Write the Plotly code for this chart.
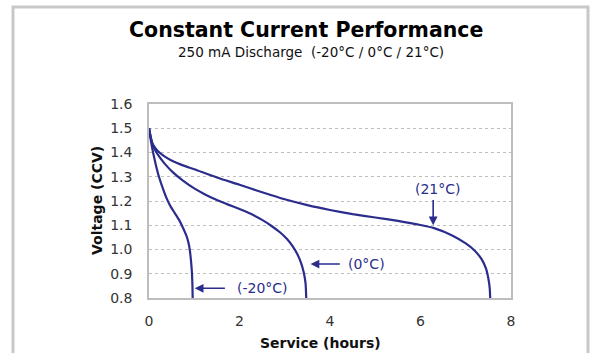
import plotly.graph_objects as go

# Discharge curves: service time (hours) vs closed-circuit voltage
hours_m20 = [0, 0.04, 0.09, 0.15, 0.22, 0.3, 0.38, 0.47, 0.57, 0.67, 0.75, 0.82, 0.87, 0.9, 0.93, 0.95, 0.96, 0.965]
volts_m20 = [1.5, 1.45, 1.4, 1.35, 1.3, 1.255, 1.215, 1.18, 1.15, 1.12, 1.09, 1.06, 1.03, 1.0, 0.95, 0.9, 0.85, 0.8]

hours_0 = [0, 0.03, 0.07, 0.12, 0.2, 0.35, 0.53, 0.75, 1.0, 1.25, 1.5, 1.75, 2.0, 2.25, 2.5, 2.7, 2.9, 3.05, 3.18, 3.28, 3.36, 3.42, 3.46, 3.475]
volts_0 = [1.5, 1.47, 1.44, 1.415, 1.39, 1.353, 1.318, 1.284, 1.252, 1.226, 1.204, 1.185, 1.167, 1.147, 1.122, 1.098, 1.07, 1.043, 1.012, 0.98, 0.945, 0.905, 0.86, 0.8]

hours_21 = [0, 0.03, 0.07, 0.12, 0.2, 0.35, 0.53, 0.75, 1.0, 1.5, 2.0, 2.5, 3.0, 3.5, 4.0, 4.5, 5.0, 5.5, 6.0, 6.3, 6.7, 7.0, 7.2, 7.35, 7.45, 7.5, 7.53, 7.54]
volts_21 = [1.5, 1.47, 1.44, 1.423, 1.405, 1.383, 1.364, 1.347, 1.331, 1.297, 1.267, 1.236, 1.207, 1.183, 1.163, 1.146, 1.132, 1.118, 1.101, 1.088, 1.058, 1.025, 0.995, 0.96, 0.92, 0.88, 0.84, 0.8]

x_ticks = [0, 2, 4, 6, 8]
y_ticks = [0.8, 0.9, 1.0, 1.1, 1.2, 1.3, 1.4, 1.5, 1.6]

NAVY = "#2B2D8C"
FONT = "DejaVu Sans"

fig = go.Figure()
for xs, ys in [(hours_m20, volts_m20), (hours_0, volts_0), (hours_21, volts_21)]:
    fig.add_trace(go.Scatter(
        x=xs, y=ys, mode="lines",
        line=dict(color=NAVY, width=2.2, shape="spline", smoothing=0.5),
        showlegend=False, hoverinfo="skip",
    ))

# Curve labels with arrows (tip, tail, label position)
arrows = [
    dict(tip=(1.01, 0.84), tail=(1.71, 0.84), text="(-20°C)", pos=(2.5, 0.84)),
    dict(tip=(3.57, 0.94), tail=(4.25, 0.94), text="(0°C)", pos=(4.8, 0.94)),
    dict(tip=(6.28, 1.10), tail=(6.28, 1.21), text="(21°C)", pos=(6.38, 1.25)),
]
for a in arrows:
    fig.add_annotation(
        x=a["tip"][0], y=a["tip"][1], ax=a["tail"][0], ay=a["tail"][1],
        xref="x", yref="y", axref="x", ayref="y", text="",
        showarrow=True, arrowhead=2, arrowsize=1.1, arrowwidth=1.6, arrowcolor=NAVY,
    )
    fig.add_annotation(
        x=a["pos"][0], y=a["pos"][1], xref="x", yref="y", text=a["text"],
        showarrow=False, font=dict(family=FONT, size=14, color=NAVY),
    )

# Titles
fig.add_annotation(
    x=0.4337, y=1.3814, xref="paper", yref="paper", showarrow=False,
    text="<b>Constant Current Performance</b>",
    font=dict(family=FONT, size=20.5, color="#000000"),
    xanchor="center", yanchor="middle",
)
fig.add_annotation(
    x=0.4475, y=1.268, xref="paper", yref="paper", showarrow=False,
    text="250 mA Discharge  (-20°C / 0°C / 21°C)",
    font=dict(family=FONT, size=13.5, color="#111111"),
    xanchor="center", yanchor="middle",
)
fig.add_annotation(
    x=-0.1436, y=0.5, xref="paper", yref="paper", showarrow=False,
    text="<b>Voltage (CCV)</b>", textangle=-90,
    font=dict(family=FONT, size=14, color="#111111"),
    xanchor="center", yanchor="middle",
)
fig.add_annotation(
    x=0.475, y=-0.232, xref="paper", yref="paper", showarrow=False,
    text="<b>Service (hours)</b>",
    font=dict(family=FONT, size=14, color="#111111"),
    xanchor="center", yanchor="middle",
)

# Outer frame around the chart
fig.add_shape(
    type="rect", xref="paper", yref="paper",
    x0=-0.3757, x1=1.2127, y0=-0.6, y1=1.5,
    line=dict(color="#C8C8C8", width=3), layer="below",
)

fig.update_xaxes(
    range=[0, 8], tickvals=x_ticks, showgrid=False, zeroline=False,
    showline=True, linecolor="#BDBDBD", linewidth=1.5, mirror=True,
    ticks="", ticklabelstandoff=9,
    tickfont=dict(family=FONT, size=14, color="#333333"),
)
fig.update_yaxes(
    range=[0.8, 1.6], tickvals=y_ticks, tickformat=".1f",
    showgrid=True, gridcolor="#BEBEBE", griddash="dot", gridwidth=1,
    zeroline=False, showline=True, linecolor="#BDBDBD", linewidth=1.5, mirror=True,
    ticks="", ticklabelstandoff=12,
    tickfont=dict(family=FONT, size=14, color="#333333"),
)

fig.update_layout(
    width=593, height=353,
    margin=dict(l=149, r=82, t=104, b=55),
    paper_bgcolor="white", plot_bgcolor="white",
)

fig.write_html("out.html")
